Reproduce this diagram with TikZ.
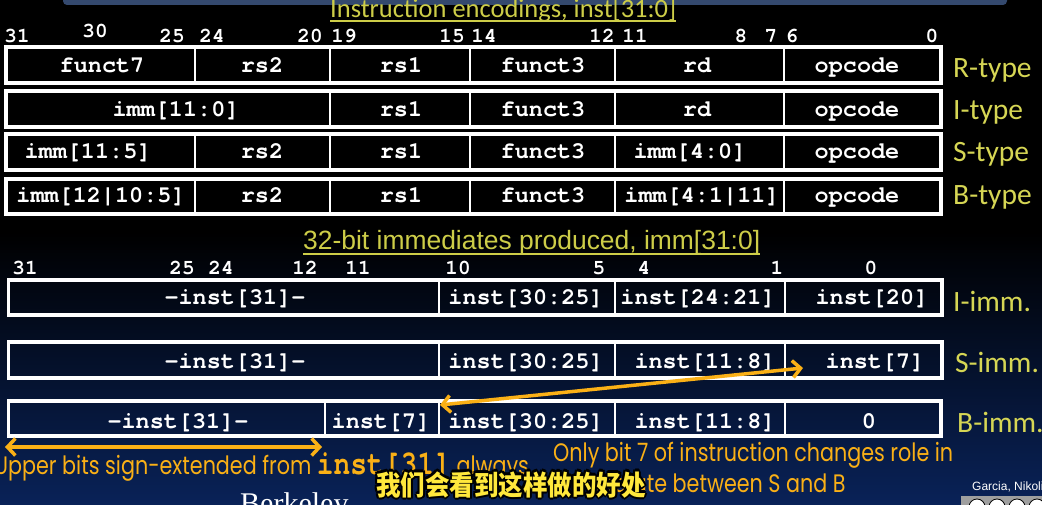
\documentclass[tikz,border=0pt]{standalone}
\usepackage{fontspec}
\usetikzlibrary{arrows.meta}
\setmainfont{Liberation Sans}
\newfontfamily\monofont{TeX Gyre Cursor}
\newfontfamily\calfont{Carlito}
\newfontfamily\gothfont{Poppins}
\newfontfamily\cjkfont{Noto Sans CJK SC}
\newfontfamily\serifont{Liberation Serif}
\definecolor{ylw}{RGB}{214,214,84}
\definecolor{ttl}{RGB}{205,205,72}
\definecolor{org}{RGB}{250,176,22}
\definecolor{navy}{RGB}{9,34,88}
\definecolor{barblue}{RGB}{52,73,110}
\definecolor{subyl}{RGB}{255,232,60}
\pgfdeclareverticalshading{bgshade}{100bp}{color(0bp)=(navy); color(25bp)=(navy); color(52bp)=(black); color(100bp)=(black)}
\newlength\onlylen
\newcommand\orgtxt{\gothfont\fontsize{20}{20}\selectfont}
\newsavebox\onlybox
\begin{document}
\sbox\onlybox{\orgtxt Only bit 7 of instruction changes role in}%
\setlength\onlylen{\wd\onlybox}%
\pgfmathsetmacro\oscale{400/\onlylen}%
\pgfmathsetmacro\oscaley{1.22*\oscale}%
\begin{tikzpicture}[x=1pt,y=-1pt,
  cell/.style={anchor=base,inner sep=0pt,text=white,font=\monofont\bfseries\fontsize{23.5}{23.5}\selectfont},
  bitnum/.style={anchor=base,inner sep=0pt,text=white,font=\monofont\bfseries\fontsize{21}{21}\selectfont},
  rowlabel/.style={anchor=base west,inner sep=0pt,text=ylw,font=\calfont\fontsize{29.5}{29.5}\selectfont},
  frame/.style={draw=white,line width=3.5pt},
  divider/.style={draw=white,line width=2.6pt},
  oarrow/.style={draw=org,line width=3.5pt,line cap=round,>={Straight Barb[length=8pt,width=17pt,line width=3.5pt]},<->},
  otext/.style={anchor=base west,inner sep=0pt,text=org}]
\useasboundingbox (0,0) rectangle (1042,505);
\shade[shading=bgshade] (0,0) rectangle (1042,505);
\fill[barblue,rounded corners=4pt] (63,-10) rectangle (1007,5);

% titles
\node[anchor=base west,inner sep=0pt,text=ttl] (t1) at (330,18) {\resizebox{346pt}{!}{\calfont\fontsize{25}{25}\selectfont Instruction encodings, inst[31:0]}};
\draw[ttl,line width=1.2pt] ([yshift=-3pt]t1.base west) -- ([yshift=-3pt]t1.base east);
\node[anchor=base west,inner sep=0pt,text=ttl] (t2) at (303,250) {\resizebox{457pt}{!}{\fontsize{25}{25}\selectfont 32-bit immediates produced, imm[31:0]}};
\draw[ttl,line width=1.2pt] ([yshift=-4pt]t2.base west) -- ([yshift=-4pt]t2.base east);

% top bit numbers
\node[bitnum] (b31) at (17,43) {31};
\node[bitnum] (b30) at (95,38) {30};
\node[bitnum] (b25) at (172,43) {25};
\node[bitnum] (b24) at (212,43) {24};
\node[bitnum] (b20) at (310,43) {20};
\node[bitnum] (b19) at (344,43) {19};
\node[bitnum] (b15) at (452,43) {15};
\node[bitnum] (b14) at (484,43) {14};
\node[bitnum] (b12) at (602,43) {12};
\node[bitnum] (b11) at (635,43) {11};
\node[bitnum] (b8) at (741,43) {8};
\node[bitnum] (b7) at (771,43) {7};
\node[bitnum] (b6) at (792,43) {6};
\node[bitnum] (b0) at (932,43) {0};

% R-type
\draw[frame] (6,47) rectangle (941,83);
\foreach \x in {195,330,470,615,784} \draw[divider] (\x,47) -- (\x,83);
\node[cell] (r1) at (102,73) {funct7};
\node[cell] (r2) at (262,73) {rs2};
\node[cell] (r3) at (401,73) {rs1};
\node[cell] (r4) at (543,73) {funct3};
\node[cell] (r5) at (697,73) {rd};
\node[cell] (r6) at (857,73) {opcode};
\node[rowlabel] (rl) at (953,78) {R-type};

% I-type
\draw[frame] (6,91) rectangle (941,127);
\foreach \x in {330,470,615,784} \draw[divider] (\x,91) -- (\x,127);
\node[cell] (i1) at (176,117) {imm[11:0]};
\node[cell] (i3) at (401,117) {rs1};
\node[cell] (i4) at (543,117) {funct3};
\node[cell] (i5) at (697,117) {rd};
\node[cell] (i6) at (857,117) {opcode};
\node[rowlabel] (il) at (953,120) {I-type};

% S-type
\draw[frame] (6,134) rectangle (941,170);
\foreach \x in {195,330,470,615,784} \draw[divider] (\x,134) -- (\x,170);
\node[cell] (s1) at (88,159) {imm[11:5]};
\node[cell] (s2) at (262,159) {rs2};
\node[cell] (s3) at (401,159) {rs1};
\node[cell] (s4) at (543,159) {funct3};
\node[cell] (s5) at (690,159) {imm[4:0]};
\node[cell] (s6) at (857,159) {opcode};
\node[rowlabel] (sl) at (953,162) {S-type};

% B-type
\draw[frame] (6,179) rectangle (941,214);
\foreach \x in {195,330,470,615,784} \draw[divider] (\x,179) -- (\x,214);
\node[cell] (bb1) at (101,203) {imm[12|10:5]};
\node[cell] (bb2) at (262,203) {rs2};
\node[cell] (bb3) at (401,203) {rs1};
\node[cell] (bb4) at (543,203) {funct3};
\node[cell] (bb5) at (702,203) {imm[4:1|11]};
\node[cell] (bb6) at (857,203) {opcode};
\node[rowlabel] (bl) at (953,205) {B-type};

% bottom bit numbers
\node[bitnum] (c31) at (25,275) {31};
\node[bitnum] (c25) at (182,275) {25};
\node[bitnum] (c24) at (221,275) {24};
\node[bitnum] (c12) at (305,275) {12};
\node[bitnum] (c11) at (358,275) {11};
\node[bitnum] (c10) at (458,275) {10};
\node[bitnum] (c5) at (599,275) {5};
\node[bitnum] (c4) at (644,275) {4};
\node[bitnum] (c1) at (777,275) {1};
\node[bitnum] (c0) at (871,275) {0};

% I-imm
\draw[frame] (8.5,280) rectangle (942,315);
\foreach \x in {439,615,785} \draw[divider] (\x,280) -- (\x,315);
\node[cell] (ii1) at (235,305) {-inst[31]-};
\node[cell] (ii2) at (526,305) {inst[30:25]};
\node[cell] (ii3) at (698,305) {inst[24:21]};
\node[cell] (ii4) at (872,305) {inst[20]};
\node[rowlabel] (iil) at (953,312) {I-imm.};

% S-imm
\draw[frame] (8.5,342) rectangle (942,378);
\foreach \x in {439,615,785} \draw[divider] (\x,342) -- (\x,378);
\node[cell] (ss1) at (235,368) {-inst[31]-};
\node[cell] (ss2) at (526,368) {inst[30:25]};
\node[cell] (ss3) at (705,368) {inst[11:8]};
\node[cell] (ss4) at (875,368) {inst[7]};
\node[rowlabel] (ssl) at (955,372) {S-imm.};

% B-imm
\draw[frame] (8.5,401) rectangle (941,436);
\foreach \x in {325,439,615,785} \draw[divider] (\x,401) -- (\x,436);
\node[cell] (x1) at (178,428) {-inst[31]-};
\node[cell] (x2) at (381,428) {inst[7]};
\node[cell] (x3) at (526,428) {inst[30:25]};
\node[cell] (x4) at (705,428) {inst[11:8]};
\node[cell] (x5) at (869,428) {0};
\node[rowlabel] (xl) at (957,432) {B-imm.};

% arrows
\coordinate (u1) at (5,447);
\coordinate (u2) at (322,447);
\draw[oarrow] (u1) -- (u2);
\coordinate (v1) at (440,405);
\coordinate (v2) at (803,368);
\draw[oarrow] (v1) -- (v2);

% orange notes
\node[otext] (n1) at (-6,474) {\scalebox{\oscale}[\oscaley]{\orgtxt Upper bits sign-extended from {\monofont\bfseries\fontsize{27}{27}\selectfont inst[31]} always}};
\node[otext] (n2) at (553,461) {\scalebox{\oscale}[\oscaley]{\orgtxt Only bit 7 of instruction changes role in}};
\node[otext] (n3) at (553,492) {\scalebox{\oscale}[\oscaley]{\orgtxt immediate between S and B}};

% footer
\node[anchor=base west,inner sep=0pt,text=white] (berk) at (240,513) {\serifont\fontsize{30}{30}\selectfont Berkeley};
\node[anchor=base west,inner sep=0pt,text=white] (gar) at (972,490) {\fontsize{12}{12}\selectfont Garcia, Nikoli\'c};
\fill[gray!75] (961,496) rectangle (1050,512);
\foreach \cx in {977,997,1017,1037} \draw[black,fill=white,line width=0.8pt] (\cx,507) circle (8);

% subtitle with outline
\foreach \dx/\dy [count=\k] in {-2.2/0,2.2/0,0/-2.2,0/2.2,-1.6/-1.6,1.6/1.6,-1.6/1.6,1.6/-1.6}
  \node[anchor=base west,inner sep=0pt,text=black] (subsh\k) at (376+\dx,495+\dy) {\scalebox{1}[1.12]{\cjkfont\bfseries\fontsize{24.5}{24.5}\selectfont 我们会看到这样做的好处}};
\node[anchor=base west,inner sep=0pt,text=subyl] (sub) at (376,495) {\scalebox{1}[1.12]{\cjkfont\bfseries\fontsize{24.5}{24.5}\selectfont 我们会看到这样做的好处}};
\end{tikzpicture}
\end{document}
